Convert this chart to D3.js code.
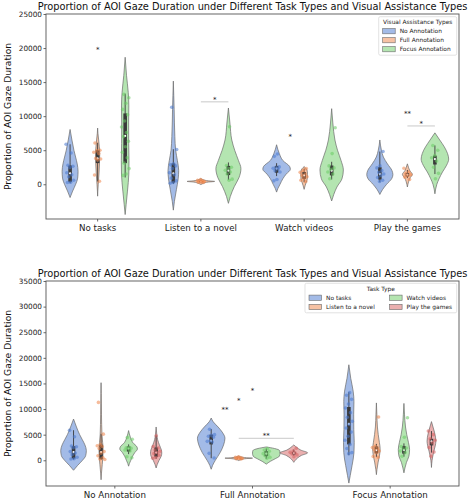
<!DOCTYPE html>
<html><head><meta charset="utf-8">
<script src="https://cdn.jsdelivr.net/npm/d3@7"></script>
<style>body{margin:0;background:#fff} text{font-family:"DejaVu Sans",sans-serif}</style>
</head><body><svg id="c" width="472" height="500"></svg>
<script>
// ---------- data ----------
const tasks = ["No tasks", "Listen to a novel", "Watch videos", "Play the games"];
const assists = ["No Annotation", "Full Annotation", "Focus Annotation"];
const yTicksTop = [0, 5000, 10000, 15000, 20000, 25000];
const yTicksBottom = [0, 5000, 10000, 15000, 20000, 25000, 30000, 35000];

// observations per assistance type, one list per task
const noAnnPoints = [
  [5870, 4600, 2800, 2650, 2450, 1700, 1400, 1100, 600, 300, 250],
  [11300, 5100, 3000, 2850, 2700, 2300, 1700, 1400, 900, 500, 250, 150],
  [4450, 4100, 2550, 2450, 2350, 2250, 2000, 1800, 700, 500],
  [4800, 2700, 2400, 2000, 1750, 1500, 1300, 1000, 600, 400]
];
const fullPoints = [
  [6050, 5000, 4900, 4700, 4500, 3800, 3700, 3550, 1350, 450],
  [700, 600, 520, 450, 400, 350, 300, 250],
  [2300, 2000, 1750, 1500, 1300, 1100, 900, 600, 400],
  [2350, 1800, 1550, 1400, 1250, 1050, 700]
];
const focusPoints = [
  [13200, 12700, 11900, 11000, 10200, 9300, 8400, 7600, 7000, 6300, 5500, 4700, 3900, 3100, 2300, 1500, 1300],
  [8450, 2750, 2500, 2300, 2050, 1800, 1500, 750, 600],
  [8300, 4500, 2700, 2400, 2200, 1800, 1500, 800],
  [5700, 5000, 4200, 3900, 3400, 2500, 1600, 800]
];

// box stats [lower whisker, q1, median, q3, upper whisker]
const noAnnBoxes = [[150,350,1600,2750,5870],[50,250,1600,3050,5150],[1200,1700,2300,2700,3100],[300,700,1500,2500,4800]];
const fullBoxes = [[400,3100,3800,5000,6100],[250,300,400,500,650],[300,800,1300,1800,2300],[900,1150,1400,1650,2100]];
const focusBoxes = [[1000,3100,7100,10400,13300],[650,1350,2000,2700,3200],[700,1300,2000,2750,3300],[1500,2900,3700,4200,5700]];

// density profiles [value, relative density]
const noAnnDensity = [
  [[8050,0],[6500,0.23],[5000,0.48],[4000,0.69],[3000,0.89],[1900,1],[900,0.95],[0,0.7],[-1000,0.32],[-1950,0]],
  [[15150,0],[13000,0.08],[11000,0.15],[9000,0.2],[7000,0.28],[5000,0.43],[3500,0.75],[2000,1],[800,0.9],[-800,0.57],[-2500,0.2],[-3800,0]],
  [[5800,0],[4500,0.2],[3500,0.45],[2600,0.95],[2200,1],[1500,0.7],[800,0.45],[0,0.25],[-600,0.1],[-1150,0]],
  [[6500,0],[5000,0.12],[4000,0.27],[3000,0.58],[2000,0.93],[1400,1],[800,0.9],[0,0.52],[-800,0.2],[-1500,0]]
];
const fullDensity = [
  [[8250,0],[7500,0.15],[6500,0.5],[5500,0.8],[4300,1],[3000,0.9],[1500,0.65],[0,0.3],[-1000,0.1],[-1750,0]],
  [[850,0],[650,0.2],[500,0.55],[420,1],[330,0.55],[150,0.2],[-50,0]],
  [[2600,0],[2300,0.6],[1900,0.97],[1400,1],[800,0.95],[300,0.65],[-200,0.3],[-750,0]],
  [[3000,0],[2500,0.22],[2000,0.5],[1450,1],[950,0.55],[400,0.25],[-400,0]]
];
const focusDensity = [
  [[18650,0],[16000,0.35],[13500,0.8],[11500,0.95],[9000,0.9],[6000,0.92],[3500,1],[1500,0.95],[-1000,0.6],[-3000,0.25],[-4450,0]],
  [[11200,0],[9000,0.12],[6500,0.27],[5000,0.5],[3500,0.8],[2300,1],[1000,0.85],[-350,0.47],[-1800,0.15],[-2800,0]],
  [[11100,0],[9000,0.1],[6500,0.28],[5000,0.5],[3500,0.8],[2100,1],[800,0.88],[-400,0.45],[-1500,0.18],[-2450,0]],
  [[7550,0],[6500,0.35],[5500,0.68],[4500,0.92],[3700,1],[2800,0.85],[1800,0.55],[800,0.3],[0,0.14],[-1400,0]]
];

// peak density of each violin (per assistance type, per task) in each chart
const topPeak = [[0.58,0.39,1.0,0.95],[0.15,1.0,0.24,0.36],[0.28,0.91,0.85,1.0]];
const bottomPeak = [[0.93,0.15,0.64,0.41],[1.0,1.0,1.0,1.0],[0.39,0.27,0.41,0.32]];

// significance marks: category, hue pair, value, label, bracket line
const topSig = [
  {cat:0, a:1, b:1, v:20050, label:"*", line:false},
  {cat:1, a:1, b:2, v:12100, label:"*", line:true},
  {cat:2, a:0, b:1, v:7240, label:"*", line:false},
  {cat:3, a:0, b:2, v:10660, label:"**", line:false},
  {cat:3, a:1, b:2, v:8560, label:"*", line:true}
];
const bottomSig = [
  {cat:1, a:0, b:1, v:10270, label:"**", line:false},
  {cat:1, a:0, b:2, v:12020, label:"*", line:false},
  {cat:1, a:0, b:3, v:13860, label:"*", line:false},
  {cat:1, a:1, b:3, v:4290, label:"**", line:true}
];

const palette = ["#4878d0", "#ee854a", "#6acc64", "#d65f5f"];
const titleText = "Proportion of AOI Gaze Duration under Different Task Types and Visual Assistance Types";
const yLabel = "Proportion of AOI Gaze Duration";

const pointsBy = [noAnnPoints, fullPoints, focusPoints];
const boxesBy = [noAnnBoxes, fullBoxes, focusBoxes];
const densBy = [noAnnDensity, fullDensity, focusDensity];

// ---------- drawing ----------
const svg = d3.select("#c");
const L = 46, R = 459;

function panel(cfg) {
  const g = svg.append("g");
  const x = d3.scaleBand().domain(cfg.cats).range([L, R]).padding(0);
  const y = d3.scaleLinear().domain(cfg.ydom).range([cfg.bottom, cfg.top]);
  const nH = cfg.hues.length;
  const slot = x.bandwidth() * 0.8 / nH;
  const w = d3.scaleLinear().domain([0, 1]).range([0, slot / 2]);
  const cx = (ci, hi) => x(cfg.cats[ci]) + x.bandwidth() / 2 + (hi - (nH - 1) / 2) * slot;

  // axes
  const ya = g.append("g").attr("transform", `translate(${L},0)`)
    .call(d3.axisLeft(y).tickValues(cfg.yticks).tickFormat(d3.format("d")).tickSize(2.5).tickPadding(1.5));
  const xa = g.append("g").attr("transform", `translate(0,${cfg.bottom})`)
    .call(d3.axisBottom(x).tickSize(2.5).tickPadding(3));
  [ya, xa].forEach(a => {
    a.select(".domain").remove();
    a.selectAll("line").attr("stroke", "#444").attr("stroke-width", 0.8);
    a.selectAll("text").attr("fill", "#222").style("font-family", "DejaVu Sans");
  });
  ya.selectAll("text").attr("font-size", 7.3);
  xa.selectAll("text").attr("font-size", 8.7);

  const area = d3.area().curve(d3.curveMonotoneY);

  for (let ci = 0; ci < cfg.cats.length; ci++) {
    for (let hi = 0; hi < nH; hi++) {
      const gi = cfg.get(ci, hi); // {assist, task}
      const c = cx(ci, hi);
      const col = palette[hi];
      const dens = densBy[gi.a][gi.t].slice().sort((p, q) => q[0] - p[0]);
      const pk = cfg.peak[gi.a][gi.t];
      area.y(d => y(d[0])).x0(d => c - w(d[1] * pk)).x1(d => c + w(d[1] * pk));
      g.append("path").attr("d", area(dens))
        .attr("fill", col).attr("fill-opacity", 0.5)
        .attr("stroke", "#6a6a6a").attr("stroke-width", 0.7);
      const b = boxesBy[gi.a][gi.t];
      g.append("line").attr("x1", c).attr("x2", c).attr("y1", y(b[0])).attr("y2", y(b[4]))
        .attr("stroke", "#3a3a3a").attr("stroke-width", 0.9);
      g.append("line").attr("x1", c).attr("x2", c).attr("y1", y(b[1])).attr("y2", y(b[3]))
        .attr("stroke", "#3a3a3a").attr("stroke-width", 3.6);
      g.append("circle").attr("cx", c).attr("cy", y(b[2])).attr("r", 1.1).attr("fill", "#fff");
      const pts = pointsBy[gi.a][gi.t];
      g.selectAll(null).data(pts).enter().append("circle")
        .attr("cx", (d, i) => c + (((i * 0.618 + ci * 0.3 + hi * 0.17) % 1) - 0.5) * 8)
        .attr("cy", d => y(d)).attr("r", 1.8)
        .attr("fill", col).attr("fill-opacity", 0.55);
    }
  }

  // significance
  cfg.sig.forEach(s => {
    const xa_ = cx(s.cat, s.a), xb_ = cx(s.cat, s.b);
    const mid = (xa_ + xb_) / 2;
    let ty = y(s.v);
    if (s.line) {
      g.append("line").attr("x1", xa_).attr("x2", xb_).attr("y1", y(s.v)).attr("y2", y(s.v))
        .attr("stroke", "#bbb").attr("stroke-width", 0.8);
      ty = y(s.v) - 4;
    }
    g.append("text").attr("x", mid).attr("y", ty + 4).attr("text-anchor", "middle")
      .attr("font-size", 7).attr("fill", "#111").text(s.label);
  });

  // frame
  g.append("rect").attr("x", L).attr("y", cfg.top).attr("width", R - L).attr("height", cfg.bottom - cfg.top)
    .attr("fill", "none").attr("stroke", "#555").attr("stroke-width", 0.9);

  // title and y label
  g.append("text").attr("x", (L + R) / 2).attr("y", cfg.top - 4).attr("text-anchor", "middle")
    .attr("font-size", 9.8).attr("fill", "#111").text(titleText);
  g.append("text").attr("transform", `translate(10.5,${(cfg.top + cfg.bottom) / 2}) rotate(-90)`)
    .attr("text-anchor", "middle").attr("font-size", 9.2).attr("fill", "#111").text(yLabel);

  // legend
  const lg = cfg.legend;
  const lgG = g.append("g");
  lgG.append("rect").attr("x", lg.x).attr("y", lg.y).attr("width", lg.w).attr("height", lg.h)
    .attr("rx", 1.5).attr("fill", "#fff").attr("fill-opacity", 0.85).attr("stroke", "#d5d5d5").attr("stroke-width", 0.7);
  lgG.append("text").attr("x", lg.x + lg.w / 2).attr("y", lg.y + 7.3).attr("text-anchor", "middle")
    .attr("font-size", 5.9).attr("fill", "#222").text(lg.title);
  cfg.hues.forEach((h, i) => {
    const col = Math.floor(i / lg.rows), row = i % lg.rows;
    const px = lg.x + 4 + col * lg.colW, py = lg.y + lg.row0 + row * lg.rowH;
    lgG.append("rect").attr("x", px).attr("y", py - 2.6).attr("width", 12.5).attr("height", 5.2)
      .attr("fill", palette[i]).attr("fill-opacity", 0.5).attr("stroke", "#6a6a6a").attr("stroke-width", 0.6);
    lgG.append("text").attr("x", px + 17).attr("y", py + 2.1).attr("font-size", 5.9).attr("fill", "#222").text(h);
  });
}

panel({
  cats: tasks, hues: assists, ydom: [-5100, 25000], yticks: yTicksTop, top: 14, bottom: 219,
  get: (ci, hi) => ({a: hi, t: ci}), peak: topPeak, sig: topSig,
  legend: {x: 378.7, y: 16.7, w: 78, h: 38.5, title: "Visual Assistance Types", rows: 3, colW: 0, row0: 14.5, rowH: 9}
});
panel({
  cats: assists, hues: tasks, ydom: [-5020, 35000], yticks: yTicksBottom, top: 281, bottom: 486,
  get: (ci, hi) => ({a: ci, t: hi}), peak: bottomPeak, sig: bottomSig,
  legend: {x: 305, y: 283.3, w: 151.7, h: 29.5, title: "Task Type", rows: 2, colW: 80.6, row0: 14.4, rowH: 9.3}
});
</script></body></html>
